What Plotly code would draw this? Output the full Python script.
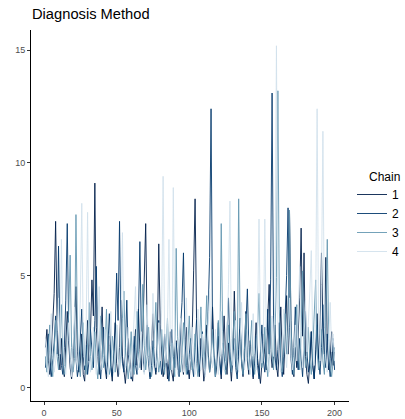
import plotly.graph_objects as go

iterations = list(range(1, 201))

chain1 = [1.8, 2.6, 1.2, 0.6, 1.5, 3.1, 4.2, 7.4, 3.0, 1.4, 0.8, 2.2, 1.0, 0.5, 1.9, 3.4, 2.1, 0.9, 0.4, 1.3,
          2.8, 4.5, 1.6, 0.7, 1.1, 2.4, 0.6, 0.3, 1.7, 3.0, 1.2, 2.5, 4.8, 3.2, 9.1, 2.7, 1.4, 0.6, 2.0, 3.6,
          1.5, 0.8, 0.4, 1.2, 2.3, 0.9, 0.3, 1.6, 2.9, 1.1, 0.5, 1.8, 3.9, 1.4, 0.7, 0.2, 1.0, 2.2, 1.3, 0.6,
          0.3, 1.5, 2.6, 1.0, 3.5, 1.7, 0.8, 2.4, 4.4, 7.3, 2.6, 1.2, 0.5, 1.9, 3.3, 1.1, 0.6, 2.0, 6.4, 2.8,
          1.3, 0.5, 0.9, 1.8, 0.4, 1.1, 2.5, 0.7, 0.3, 1.6, 2.1, 0.8, 1.4, 3.0, 1.2, 0.6, 1.9, 2.7, 1.0, 0.4,
          1.3, 2.4, 5.2, 8.4, 3.1, 1.0, 0.5, 2.2, 1.4, 0.3, 0.9, 2.8, 1.6, 0.7, 1.2, 3.6, 1.8, 0.5, 1.0, 2.3,
          1.1, 0.4, 1.7, 3.2, 1.3, 0.6, 2.0, 1.0, 0.3, 1.5, 4.3, 2.2, 0.8, 1.4, 2.6, 1.1, 0.5, 1.8, 3.4, 1.2,
          0.6, 2.1, 1.0, 0.4, 1.6, 2.9, 1.3, 0.7, 0.2, 1.1, 2.4, 1.5, 0.8, 3.1, 4.6, 1.7, 0.9, 1.4, 2.8, 1.0,
          0.5, 1.9, 3.6, 1.2, 0.6, 2.3, 4.1, 1.5, 7.8, 3.0, 1.1, 0.5, 1.8, 0.9, 2.7, 4.0, 7.1, 2.3, 6.0, 1.4,
          0.6, 0.2, 1.2, 2.5, 1.0, 0.4, 1.7, 3.3, 1.3, 2.4, 6.0, 2.8, 1.5, 5.8, 1.9, 0.8, 1.3, 2.5, 1.0, 1.6]

chain2 = [0.9, 1.6, 2.4, 1.1, 0.5, 1.3, 2.0, 3.2, 1.5, 6.3, 2.2, 1.0, 0.6, 1.8, 3.9, 7.3, 2.5, 1.2, 0.7, 1.6,
          2.9, 1.3, 0.5, 1.0, 2.2, 3.5, 1.4, 0.8, 1.9, 0.6, 1.2, 2.6, 1.7, 0.9, 3.0, 5.4, 2.1, 1.0, 0.4, 1.5,
          2.7, 1.2, 0.6, 1.9, 3.3, 1.0, 0.5, 1.4, 2.5, 5.1, 3.0, 7.4, 2.2, 1.1, 0.7, 1.8, 3.9, 1.5, 0.8, 0.4,
          1.2, 2.3, 1.0, 0.6, 3.1, 6.5, 2.4, 1.3, 0.7, 1.5, 2.8, 1.1, 0.4, 1.0, 2.1, 1.4, 0.7, 1.7, 3.0, 1.3,
          0.6, 1.1, 2.4, 1.5, 0.8, 0.3, 1.2, 2.6, 1.4, 0.9, 2.0, 1.1, 0.5, 2.7, 3.8, 6.0, 2.3, 1.0, 0.6, 1.5,
          2.2, 1.0, 0.5, 1.8, 3.0, 1.3, 0.7, 1.5, 2.5, 1.1, 0.6, 1.9, 3.4, 5.8, 12.4, 2.6, 1.2, 0.5, 1.6, 2.9,
          1.2, 0.6, 2.0, 1.3, 0.8, 2.5, 4.0, 1.6, 0.7, 1.4, 2.2, 0.9, 0.4, 1.7, 3.1, 1.3, 0.6, 1.2, 2.6, 4.4,
          1.8, 0.9, 1.4, 0.5, 1.1, 2.3, 1.0, 0.4, 1.6, 2.8, 1.2, 0.7, 1.9, 3.5, 1.5, 4.8, 13.1, 3.2, 1.4, 0.8,
          1.7, 2.9, 1.1, 0.5, 1.4, 3.2, 5.0, 8.0, 2.7, 1.3, 0.6, 1.8, 3.6, 1.4, 0.8, 2.2, 1.2, 0.5, 1.9, 3.4,
          1.6, 0.7, 1.3, 2.5, 1.0, 0.4, 1.5, 2.8, 1.2, 0.6, 1.8, 3.7, 1.5, 0.9, 2.4, 1.1, 0.5, 1.4, 2.2, 0.8]

chain3 = [1.4, 0.7, 1.9, 2.8, 1.2, 0.5, 1.6, 3.0, 1.4, 0.8, 2.1, 3.7, 1.5, 0.6, 1.1, 2.4, 3.3, 5.9, 1.8, 0.7,
          1.3, 7.7, 2.6, 1.1, 0.5, 1.7, 2.9, 1.2, 0.6, 2.0, 3.8, 1.4, 0.8, 1.6, 2.5, 1.1, 0.4, 1.3, 3.2, 2.0,
          0.9, 1.8, 3.5, 1.3, 0.6, 1.0, 2.3, 1.5, 0.7, 2.8, 1.4, 0.8, 1.6, 3.1, 4.3, 1.7, 0.9, 0.4, 1.2, 2.5,
          1.1, 0.6, 1.8, 3.4, 1.6, 0.9, 2.2, 4.6, 1.9, 0.8, 1.4, 2.7, 1.2, 0.5, 1.0, 2.3, 3.8, 1.5, 0.7, 1.2,
          2.6, 1.3, 0.6, 1.7, 3.1, 1.4, 0.8, 2.0, 1.0, 0.5, 6.2, 2.3, 1.2, 0.7, 1.5, 2.9, 1.3, 0.6, 1.8, 3.2,
          1.5, 0.8, 1.2, 2.4, 1.1, 0.5, 1.9, 3.6, 1.6, 0.9, 2.2, 4.1, 1.4, 0.7, 1.3, 2.6, 1.2, 0.5, 1.8, 3.0,
          1.4, 7.3, 2.5, 1.1, 0.6, 1.6, 2.8, 1.3, 0.7, 2.1, 3.4, 1.5, 0.8, 8.4, 2.9, 1.2, 0.6, 1.7, 3.3, 1.4,
          0.8, 1.9, 3.0, 1.3, 0.6, 1.2, 2.4, 4.2, 1.8, 0.9, 1.5, 2.7, 1.2, 0.5, 1.4, 3.1, 1.6, 0.8, 2.3, 4.9,
          13.2, 3.5, 1.4, 0.7, 1.8, 3.3, 1.5, 2.6, 7.9, 2.8, 1.2, 0.6, 1.9, 3.7, 1.6, 0.8, 2.5, 5.2, 1.9, 0.9,
          1.4, 2.7, 1.2, 0.6, 1.7, 3.0, 4.8, 1.6, 0.8, 1.5, 2.6, 1.2, 0.6, 2.9, 6.6, 2.2, 1.0, 0.5, 1.3, 1.8]

chain4 = [2.2, 1.0, 0.5, 1.6, 3.3, 1.4, 0.7, 1.2, 2.5, 4.0, 1.5, 6.6, 2.4, 1.0, 0.6, 1.8, 2.9, 1.3, 0.5, 1.7,
          3.6, 1.4, 0.8, 2.1, 3.9, 8.2, 2.3, 1.0, 2.6, 7.8, 1.9, 0.7, 1.3, 2.7, 1.2, 0.6, 2.4, 4.5, 1.6, 0.8,
          1.4, 2.6, 1.1, 0.5, 1.9, 3.4, 1.5, 0.7, 1.2, 2.8, 1.3, 0.6, 3.2, 6.9, 2.0, 0.9, 1.5, 2.7, 1.1, 0.5,
          1.7, 3.0, 4.5, 1.6, 0.8, 1.3, 2.5, 1.1, 0.6, 2.0, 3.7, 1.4, 0.7, 1.6, 4.2, 1.8, 0.9, 1.5, 2.9, 1.2,
          3.5, 9.4, 2.4, 1.1, 2.8, 6.6, 1.9, 0.8, 8.9, 2.6, 1.2, 0.6, 1.7, 3.1, 1.4, 0.7, 2.2, 4.0, 1.6, 0.8,
          1.3, 2.7, 1.2, 0.6, 1.8, 3.5, 1.5, 0.8, 2.4, 1.1, 0.5, 1.6, 2.9, 4.4, 1.7, 0.9, 1.4, 2.6, 1.2, 0.6,
          1.9, 3.4, 1.5, 0.8, 1.2, 2.5, 4.6, 8.3, 2.2, 1.0, 1.7, 3.0, 1.3, 0.7, 2.1, 3.8, 1.5, 0.8, 1.4, 2.6,
          1.2, 0.6, 1.8, 3.3, 1.5, 0.8, 2.9, 7.5, 2.4, 1.1, 2.0, 7.5, 2.6, 1.2, 0.7, 1.6, 3.2, 1.4, 4.1, 15.2,
          3.0, 1.3, 0.7, 1.9, 3.5, 1.6, 0.9, 2.3, 4.0, 1.5, 0.8, 1.4, 2.8, 1.2, 3.6, 5.4, 1.8, 0.9, 2.2, 3.9,
          1.6, 2.8, 4.3, 6.1, 2.0, 1.0, 3.4, 12.4, 2.5, 1.2, 4.6, 11.4, 2.7, 1.3, 0.7, 2.1, 3.8, 1.6, 2.4, 1.2]

chain_names = ["1", "2", "3", "4"]
chain_values = [chain1, chain2, chain3, chain4]
chain_colors = ["#011f4b", "#03396c", "#6497b1", "#d1e1ec"]

x_ticks = [0, 50, 100, 150, 200]
y_ticks = [0, 5, 10, 15]

W, H = 405, 419
ML, MR, MT, MB = 31, 56, 30, 18

fig = go.Figure()
for name, vals, col in zip(chain_names, chain_values, chain_colors):
    fig.add_trace(go.Scatter(x=iterations, y=vals, mode="lines", name=name,
                             line=dict(color=col, width=0.9)))

fig.update_layout(
    width=W, height=H,
    margin=dict(l=ML, r=MR, t=MT, b=MB, autoexpand=False),
    paper_bgcolor="white", plot_bgcolor="white",
    font=dict(family="Liberation Sans, Arial, sans-serif", color="black"),
    title=dict(text="Diagnosis Method", x=32 / W, xref="container", xanchor="left",
               y=1 - 9 / H, yref="container", yanchor="top",
               font=dict(size=14.7, color="black")),
    legend=dict(font=dict(size=12),
                xref="container", yref="container",
                x=352 / W, xanchor="left", y=1 - 223 / H, yanchor="middle",
                tracegroupgap=0, itemwidth=30, bgcolor="rgba(0,0,0,0)"),
    showlegend=True,
    annotations=[dict(text="Chain", xref="paper", yref="paper", showarrow=False,
                      x=(367 - ML) / (W - ML - MR), xanchor="left",
                      y=(H - MB - 177) / (H - MT - MB), yanchor="middle",
                      font=dict(size=12, color="black"))],
)
fig.update_xaxes(range=[-8.95, 209.95], tickvals=x_ticks, showgrid=False, zeroline=False,
                 automargin=False,
                 showline=True, linecolor="black", linewidth=1, ticks="outside",
                 ticklen=3, tickcolor="#333333", tickfont=dict(size=9, color="#4d4d4d"))
fig.update_yaxes(range=[-0.58, 15.9], tickvals=y_ticks, showgrid=False, zeroline=False,
                 automargin=False,
                 showline=True, linecolor="black", linewidth=1, ticks="outside",
                 ticklen=3, tickcolor="#333333", tickfont=dict(size=9, color="#4d4d4d"))

fig.write_html("out.html", config={"displayModeBar": False},
               post_script="document.body.style.margin='0';document.body.style.overflow='hidden';")
